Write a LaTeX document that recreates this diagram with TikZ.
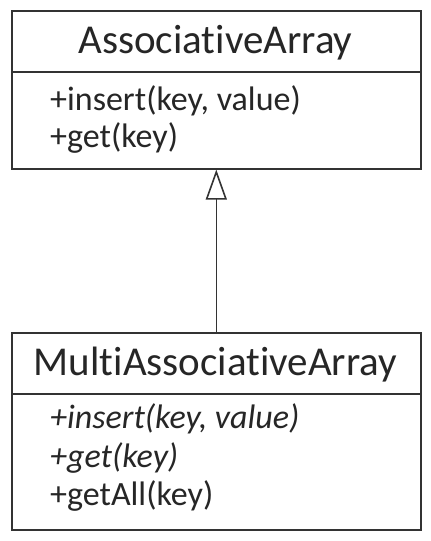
\documentclass[tikz,border=0pt]{standalone}
\usepackage{fontspec}
\setmainfont{Carlito}[Ligatures=NoCommon]
\usetikzlibrary{arrows.meta}
\definecolor{ink}{HTML}{262626}
\definecolor{edge}{HTML}{333333}
\begin{document}
\begin{tikzpicture}[x=1pt,y=-1pt,
  classbox/.style={draw=edge,line width=1.6pt,minimum width=409pt,anchor=north west,inner sep=0pt},
  titletext/.style={anchor=base,text=ink,font=\fontsize{41}{48}\selectfont,inner sep=0pt},
  methtext/.style={anchor=base west,text=ink,font=\fontsize{34}{40}\selectfont,inner sep=0pt},
  divider/.style={draw=edge,line width=1.6pt}]
\useasboundingbox (0,0) rectangle (431,541);
\fill[white] (0,0) rectangle (431,541);
% top class
\node[classbox,minimum height=158pt] (A) at (11,10) {};
\coordinate (Adl) at (11,72);
\coordinate (Adr) at (420,72);
\draw[divider] (Adl) -- (Adr);
\node[titletext] (At) at (215.5,53) {AssociativeArray};
\node[methtext] (Am1) at (50,110) {+insert(key, value)};
\node[methtext] (Am2) at (50,147) {+get(key)};
% bottom class
\node[classbox,minimum height=197pt] (B) at (11,332) {};
\coordinate (Bdl) at (11,394);
\coordinate (Bdr) at (420,394);
\draw[divider] (Bdl) -- (Bdr);
\node[titletext] (Bt) at (215.5,375) {MultiAssociativeArray};
\node[methtext] (Bm1) at (50,428) {\itshape +insert(key, value)};
\node[methtext] (Bm2) at (50,467) {\itshape +get(key)};
\node[methtext] (Bm3) at (50,505) {+getAll(key)};
% generalization
\draw[draw=edge,line width=1.6pt,-{Triangle[open,length=30pt,width=21pt,line width=1.6pt]}] (B.north) -- (A.south);
\end{tikzpicture}
\end{document}
